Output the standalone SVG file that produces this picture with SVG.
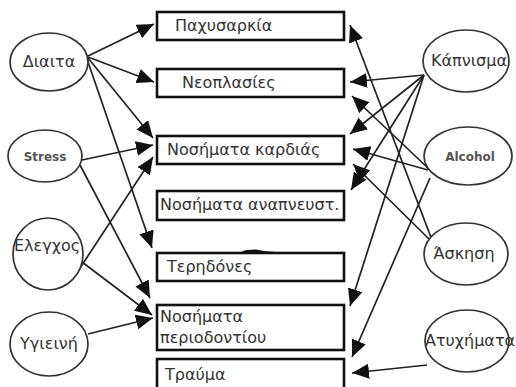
<svg xmlns="http://www.w3.org/2000/svg" width="516" height="387" viewBox="0 0 516 387">
<defs>
<marker id="ah" markerUnits="userSpaceOnUse" markerWidth="18" markerHeight="16" refX="17" refY="7.5" orient="auto">
<path d="M0,0 L17,7.5 L0,15 z" fill="#111"/>
</marker>
<style>
.box{fill:#fff;stroke:#111;stroke-width:2.6}
.ell{fill:#fff;stroke:#333;stroke-width:1.7}
.t{font-family:"DejaVu Sans","Noto Sans",sans-serif;font-size:16px;fill:#333}
.s{font-family:"DejaVu Sans","Noto Sans",sans-serif;font-size:12px;font-weight:bold;fill:#555}
.c{fill:none;stroke:#222;stroke-width:1.7;marker-end:url(#ah)}
</style>
</defs>
<rect width="516" height="387" fill="#fff"/>
<g id="connectors">
<path class="c" d="M88,56 L154,24"/>
<path class="c" d="M88,57 L154,82"/>
<path class="c" d="M88,58 L153,138"/>
<path class="c" d="M87,59 L152,248"/>
<path class="c" d="M82,160 L153,145"/>
<path class="c" d="M80,165 L150,298"/>
<path class="c" d="M80,268 L153,157"/>
<path class="c" d="M82,262 L152,315"/>
<path class="c" d="M88,334 L153,318"/>
<path class="c" d="M424,75 L350,82"/>
<path class="c" d="M424,75 L350,134"/>
<path class="c" d="M424,75 L351,190"/>
<path class="c" d="M424,75 L350,306"/>
<path class="c" d="M430,170 L352,96"/>
<path class="c" d="M428,170 L353,149"/>
<path class="c" d="M430,178 L352,357"/>
<path class="c" d="M432,240 L350,25"/>
<path class="c" d="M430,240 L353,164"/>
<path class="c" d="M427,365 L352,373"/>
</g>
<g id="n-pachysarkia"><rect class="box" x="157" y="12" width="187" height="28"/><text class="t" x="175" y="31">Παχυσαρκία</text></g>
<g id="n-neoplasies"><rect class="box" x="157" y="69" width="187" height="28"/><text class="t" x="182" y="88">Νεοπλασίες</text></g>
<g id="n-kardias"><rect class="box" x="157" y="136" width="187" height="28"/><text class="t" x="167" y="155">Νοσήματα καρδιάς</text></g>
<g id="n-anapneust"><rect class="box" x="157" y="191" width="187" height="29"/><text class="t" x="160" y="210">Νοσήματα αναπνευστ.</text></g>
<g id="n-terhdones"><rect class="box" x="157" y="253" width="187" height="28"/><path d="M240,252.5 L246,250 L256,249.5 L264,251 L276,252 L276,253.5 L240,253.5 z" fill="#111"/><text class="t" x="167" y="272">Τερηδόνες</text></g>
<g id="n-periodontiou"><rect class="box" x="157" y="305" width="187" height="45"/><text class="t" x="160" y="322">Νοσήματα</text><text class="t" x="160" y="343">περιοδοντίου</text></g>
<g id="n-trauma"><rect class="box" x="157" y="359" width="187" height="30"/><text class="t" x="165" y="380">Τραύμα</text></g>
<g id="n-diaita"><ellipse class="ell" cx="49" cy="62" rx="39" ry="29"/><text class="t" x="49" y="67" text-anchor="middle">Διαιτα</text></g>
<g id="n-stress"><ellipse class="ell" cx="45" cy="156" rx="37" ry="26"/><text class="s" x="45" y="161" text-anchor="middle">Stress</text></g>
<g id="n-elegxos"><ellipse class="ell" cx="48" cy="254" rx="35" ry="36"/><text class="t" x="47" y="251" text-anchor="middle">Ελεγχος</text></g>
<g id="n-ygieini"><ellipse class="ell" cx="49" cy="344" rx="39" ry="32"/><text class="t" x="49" y="349" text-anchor="middle">Υγιεινή</text></g>
<g id="n-kapnisma"><ellipse class="ell" cx="466" cy="61" rx="43" ry="31"/><text class="t" x="469" y="66" text-anchor="middle">Κάπνισμα</text></g>
<g id="n-alcohol"><ellipse class="ell" cx="468" cy="156" rx="44" ry="29"/><text class="s" x="470" y="161" text-anchor="middle">Alcohol</text></g>
<g id="n-askisi"><ellipse class="ell" cx="466" cy="254" rx="42" ry="31"/><text class="t" x="464" y="259" text-anchor="middle">Άσκηση</text></g>
<g id="n-atyximata"><ellipse class="ell" cx="467" cy="341" rx="42" ry="31"/><text class="t" x="470" y="346" text-anchor="middle">Ατυχήματα</text></g>
</svg>
